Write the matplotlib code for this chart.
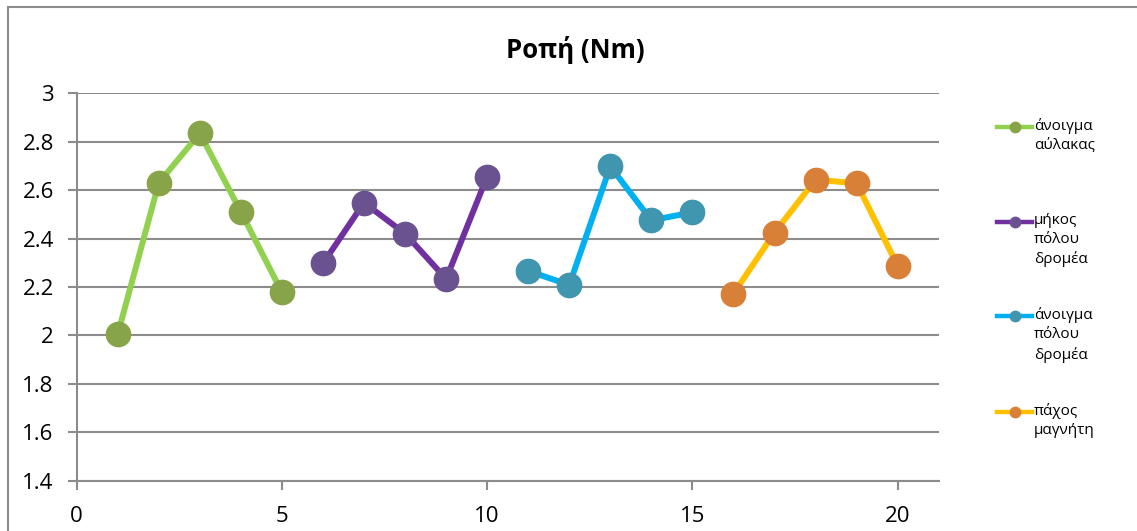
import matplotlib
matplotlib.use("Agg")
import matplotlib.pyplot as plt
from matplotlib.lines import Line2D
from matplotlib.patches import Rectangle
from matplotlib.transforms import IdentityTransform

plt.rcParams['font.family'] = ['Open Sans', 'DejaVu Sans']

# torque per test point, one group per varied parameter
x_slot = [1, 2, 3, 4, 5]
y_slot = [2.005, 2.63, 2.835, 2.51, 2.178]
x_pole_len = [6, 7, 8, 9, 10]
y_pole_len = [2.297, 2.548, 2.42, 2.233, 2.656]
x_pole_open = [11, 12, 13, 14, 15]
y_pole_open = [2.266, 2.208, 2.698, 2.475, 2.508]
x_magnet = [16, 17, 18, 19, 20]
y_magnet = [2.172, 2.424, 2.643, 2.628, 2.287]

labels = ["άνοιγμα\nαύλακας", "μήκος\nπόλου\nδρομέα",
          "άνοιγμα\nπόλου\nδρομέα", "πάχος\nμαγνήτη"]
line_colors = ["#92D050", "#7030A0", "#00B0F0", "#FFC000"]
marker_colors = ["#88A449", "#6A5290", "#4096AF", "#D98038"]

W, H = 1137, 531
fig = plt.figure(figsize=(W / 100, H / 100), dpi=100)
ax = fig.add_axes([76.7 / W, 1 - 480.5 / H, (938.7 - 76.7) / W, (480.5 - 93.3) / H])

grid_col = "#8C8C8C"
series = [(x_slot, y_slot), (x_pole_len, y_pole_len),
          (x_pole_open, y_pole_open), (x_magnet, y_magnet)]
for (xs, ys), lc, mc in zip(series, line_colors, marker_colors):
    ax.plot(xs, ys, color=lc, lw=4.3, marker='o', ms=17.5,
            mfc=mc, mec=mc, solid_joinstyle='miter', zorder=3)

ax.set_xlim(0, 21)
ax.set_ylim(1.4, 3.0)
ax.set_xticks([0, 5, 10, 15, 20])
ax.set_yticks([1.4, 1.6, 1.8, 2.0, 2.2, 2.4, 2.6, 2.8, 3.0])
ax.set_yticklabels(["1.4", "1.6", "1.8", "2", "2.2", "2.4", "2.6", "2.8", "3"])
ax.yaxis.grid(True, color=grid_col, lw=1.5)
ax.set_axisbelow(True)
for s in ["top", "right"]:
    ax.spines[s].set_visible(False)
for s in ["left", "bottom"]:
    ax.spines[s].set_color(grid_col)
    ax.spines[s].set_linewidth(1.5)
ax.tick_params(axis='both', colors=grid_col, width=1.5, length=6.5,
               labelcolor='black', labelsize=16)
ax.tick_params(axis='y', pad=10)
ax.tick_params(axis='x', pad=12)

fig.text(575 / W, 1 - 50 / H, "Ροπή (Nm)", ha='center', va='center',
         fontsize=18.5, fontweight='bold')

# legend drawn by hand: line key, marker, wrapped label
ident = IdentityTransform()
legend_tops = [127, 221.7, 316, 411.7]
for top, lab, lc, mc in zip(legend_tops, labels, line_colors, marker_colors):
    yy = H - top
    fig.add_artist(Line2D([997, 1032], [yy, yy], color=lc, lw=3.2, transform=ident))
    fig.add_artist(Line2D([1015], [yy], marker='o', ms=7.5, mfc=mc, mec=mc,
                          transform=ident))
    fig.text(1034 / W, (yy + 9) / H, lab, ha='left', va='top',
             fontsize=11, linespacing=1.37)

# chart border
fig.add_artist(Rectangle((8 / W, -0.1), 1.2, (H - 7) / H + 0.1,
                         transform=fig.transFigure, fill=False,
                         edgecolor="#8C8C8C", lw=1.5))

fig.savefig("out.png", dpi=100)
